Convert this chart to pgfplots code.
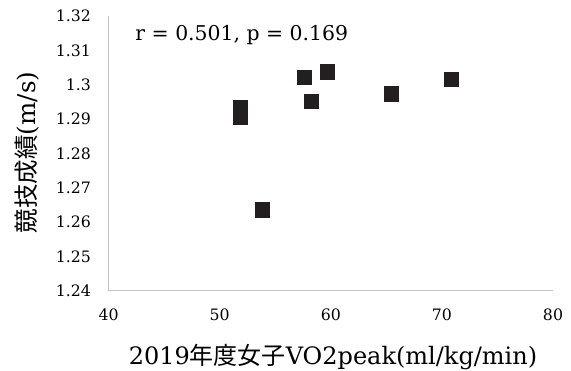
\documentclass[border=0pt]{standalone}
\usepackage{fontspec}
\setmainfont{DejaVu Serif}
\newfontfamily\cjk{Noto Sans CJK JP}
\usepackage{pgfplots}
\pgfplotsset{compat=1.18}
\definecolor{mk}{RGB}{35,31,32}
\definecolor{ax}{RGB}{196,196,196}
\begin{document}
\begin{tikzpicture}
\useasboundingbox (-81.4pt,-60.2pt) rectangle (346.9pt,218pt);
\begin{axis}[
  scale only axis,
  width=333.4pt, height=206pt,
  xmin=40, xmax=80, ymin=1.24, ymax=1.32,
  xtick={40,50,60,70,80},
  ytick={1.24,1.25,1.26,1.27,1.28,1.29,1.30,1.31,1.32},
  yticklabels={1.24,1.25,1.26,1.27,1.28,1.29,1.3,1.31,1.32},
  axis x line=bottom, axis y line=left,
  axis line style={-, draw=ax, line width=1pt},
  major tick length=0pt,
  tick style={draw=none},
  /pgf/number format/assume math mode=true,
  ticklabel style={font=\fontsize{11.8}{13}\selectfont},
  xticklabel style={anchor=north, inner sep=0pt},
  yticklabel style={anchor=east, inner sep=0pt},
  xticklabel shift=13.3pt,
  yticklabel shift=13pt,
  xlabel={2019{\cjk 年度女子}VO2peak(ml/kg/min)},
  xlabel style={at={(axis description cs:0.505,0)}, anchor=base, inner sep=0pt, yshift=-55.7pt, font=\fontsize{18}{20}\selectfont},
  ylabel={{\cjk 競技成績}(m/s)},
  ylabel style={at={(axis description cs:0,0.503)}, anchor=center, inner sep=0pt, yshift=60.75pt, font=\fontsize{18.4}{20}\selectfont},
  clip=false,
]
\addplot[only marks, mark=square*, mark size=5.4pt, mark options={fill=mk, draw=mk}] coordinates {
(51.88,1.2933) (51.88,1.2907) (53.86,1.2636) (57.64,1.3021)
(58.27,1.2951) (59.67,1.3038) (65.43,1.2973) (70.85,1.3015)
};
\node[anchor=base west, inner sep=0pt, font=\fontsize{15.3}{17}\selectfont] at (axis cs:42.4,1.313) {r = 0.501, p = 0.169};
\end{axis}
\end{tikzpicture}
\end{document}
